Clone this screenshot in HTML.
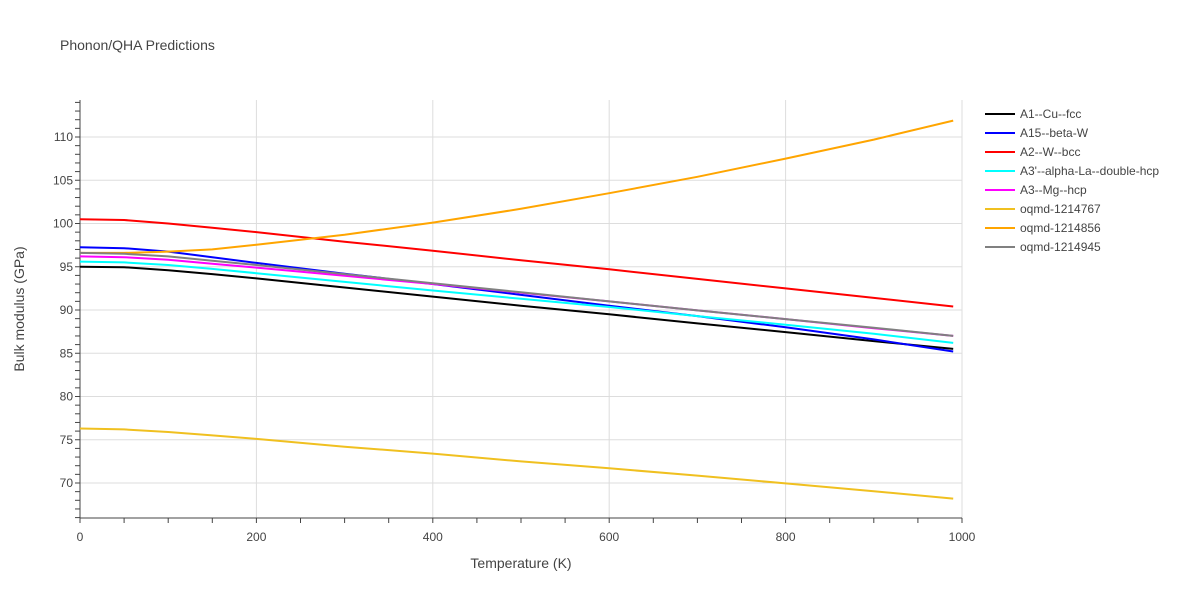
<!DOCTYPE html>
<html><head><meta charset="utf-8"><style>
body{margin:0;background:#fff;font-family:"Liberation Sans",sans-serif}
</style></head><body>
<svg width="1200" height="600" xmlns="http://www.w3.org/2000/svg" font-family="Liberation Sans, sans-serif">
<text x="60" y="50" font-size="14" fill="#444">Phonon/QHA Predictions</text>
<g id="grid"></g><g id="axes"></g><g id="series"></g><g id="legend"></g>
<text x="521" y="568" font-size="14" fill="#444" text-anchor="middle">Temperature (K)</text>
<text x="24" y="309" font-size="14" fill="#444" text-anchor="middle" transform="rotate(-90 24 309)">Bulk modulus (GPa)</text>
</svg>
<script>
const temps=[0,50,100,150,200,300,400,500,600,700,800,900,990];
const names=["A1--Cu--fcc","A15--beta-W","A2--W--bcc","A3'--alpha-La--double-hcp","A3--Mg--hcp","oqmd-1214767","oqmd-1214856","oqmd-1214945"];
const colors=["#000000","#0000ff","#ff0000","#00ffff","#ff00ff","#f0c020","#ffa500","#808080"];
const sBlack=[95.0,94.95,94.6,94.15,93.65,92.6,91.55,90.5,89.5,88.45,87.45,86.4,85.5];
const sBlue=[97.25,97.15,96.75,96.1,95.45,94.2,93.0,91.75,90.5,89.3,88.0,86.6,85.2];
const sRed=[100.5,100.4,100.0,99.5,99.0,97.9,96.85,95.75,94.7,93.6,92.5,91.4,90.4];
const sCyan=[95.6,95.5,95.2,94.75,94.25,93.25,92.25,91.3,90.35,89.3,88.3,87.25,86.2];
const sMag=[96.2,96.1,95.8,95.35,94.9,93.95,93.0,92.0,91.0,89.95,88.95,87.9,87.0];
const sYellow=[76.3,76.2,75.9,75.5,75.1,74.2,73.4,72.5,71.7,70.85,69.95,69.05,68.2];
const sOrange=[96.6,96.6,96.75,97.0,97.55,98.7,100.1,101.7,103.5,105.4,107.5,109.7,111.9];
const sGray=[96.6,96.5,96.2,95.7,95.2,94.15,93.1,92.05,91.0,89.95,88.95,87.95,87.0];
const xTicks=[0,200,400,600,800,1000];
const yTicks=[70,75,80,85,90,95,100,105,110];
const series=[sBlack,sBlue,sRed,sCyan,sMag,sYellow,sOrange,sGray];
const drawOrder=[0,1,2,3,4,5,6,7];
const NS="http://www.w3.org/2000/svg";
const X=t=>80+t*0.882;
const Y=v=>483-(v-70)*8.65;
const plotTop=100,plotBot=518;
function mk(tag,attrs,parent){const e=document.createElementNS(NS,tag);for(const k in attrs)e.setAttribute(k,attrs[k]);parent.appendChild(e);return e;}
const g=document.getElementById('grid'),ax=document.getElementById('axes'),sg=document.getElementById('series'),lg=document.getElementById('legend');
yTicks.forEach(v=>{const l=mk('line',{x1:80,x2:962,y1:Y(v),y2:Y(v),stroke:'#ddd'},g);


const t=mk('text',{x:73,y:Y(v)+4,'font-size':12,fill:'#444','text-anchor':'end'},ax);t.textContent=v;

});
xTicks.forEach(v=>{if(v>0){const l=mk('line',{x1:X(v),x2:X(v),y1:plotTop,y2:plotBot,stroke:'#ddd'},g);

}
const t=mk('text',{x:X(v),y:541,'font-size':12,fill:'#444','text-anchor':'middle'},ax);t.textContent=v;

});
for(let v=66;v<=114;v++){mk('line',{x1:75,x2:80,y1:Y(v),y2:Y(v),stroke:'#444'},ax);}
for(let v=0;v<=1000;v+=50){mk('line',{x1:X(v),x2:X(v),y1:plotBot,y2:plotBot+5,stroke:'#444'},ax);}
const ya=mk('line',{x1:80,x2:80,y1:plotTop,y2:plotBot,stroke:'#444'},ax);


const xa=mk('line',{x1:80,x2:962,y1:plotBot,y2:plotBot,stroke:'#444'},ax);


drawOrder.forEach(i=>{const d=series[i].map((v,j)=>(j?'L':'M')+X(temps[j]).toFixed(1)+' '+Y(v).toFixed(1)).join(' ');
const p=mk('path',{d:d,fill:'none',stroke:colors[i],'stroke-width':2},sg);

});
names.forEach((n,i)=>{const y=114+i*19;
const grp=mk('g',{},lg);


mk('line',{x1:985,x2:1015,y1:y,y2:y,stroke:colors[i],'stroke-width':2},grp);
const t=mk('text',{x:1020,y:y+4,'font-size':12,fill:'#444'},grp);t.textContent=n;});
</script>
</body></html>
